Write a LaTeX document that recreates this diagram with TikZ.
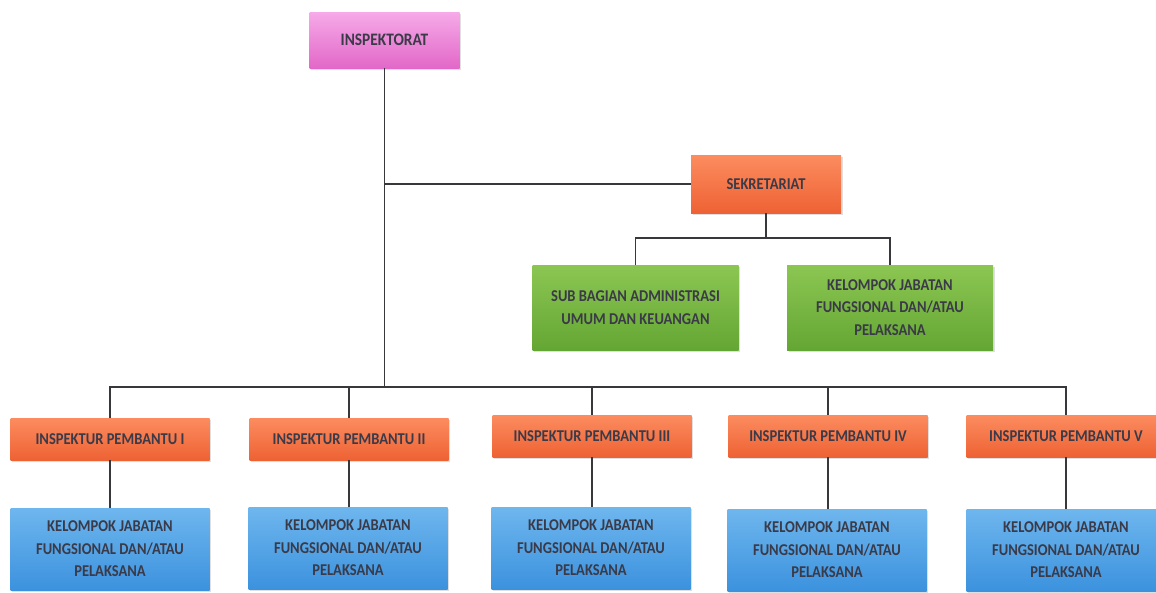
\documentclass[tikz,border=0pt]{standalone}
\usepackage{fontspec}
\setmainfont[FakeStretch=0.88]{Carlito}
\usetikzlibrary{shadows}
\definecolor{pinkL}{RGB}{246,170,232}
\definecolor{pinkD}{RGB}{226,104,200}
\definecolor{orangeL}{RGB}{252,140,95}
\definecolor{orangeD}{RGB}{238,98,52}
\definecolor{greenL}{RGB}{140,198,82}
\definecolor{greenD}{RGB}{100,166,52}
\definecolor{blueL}{RGB}{110,182,238}
\definecolor{blueD}{RGB}{60,146,222}
\definecolor{txtgray}{RGB}{58,58,72}
\definecolor{linegray}{RGB}{55,55,60}
\tikzset{
	unitbox/.style={align=center, text=txtgray, inner sep=2pt,
		font=\fontsize{16.5}{22.5}\selectfont\bfseries,
		drop shadow={opacity=0.25, shadow xshift=1.5pt, shadow yshift=-2pt}},
	headbox/.style={unitbox, top color=pinkL, bottom color=pinkD, minimum width=150pt, minimum height=56pt, font=\fontsize{17.5}{22}\selectfont\bfseries},
	sekbox/.style={unitbox, top color=orangeL, bottom color=orangeD, minimum width=150pt, minimum height=58pt},
	subbox/.style={unitbox, top color=greenL, bottom color=greenD, minimum width=206pt, minimum height=85pt},
	irbanbox/.style={unitbox, top color=orangeL, bottom color=orangeD, minimum width=199pt, minimum height=42pt},
	jafbox/.style={unitbox, top color=blueL, bottom color=blueD, minimum width=199pt, minimum height=82pt},
	link/.style={draw=linegray, line width=1.7pt}
}
\begin{document}
\begin{tikzpicture}[x=1pt, y=-1pt]
	%%%%% START %%%%%
	\useasboundingbox[fill=white] (0, 0) rectangle (1156, 592);
	
	\node[headbox] (insp) at (384.5, 40) {INSPEKTORAT};
	\node[sekbox] (sek) at (766, 184) {SEKRETARIAT};
	
	\node[subbox] (sub) at (635.5, 307.5) {SUB BAGIAN ADMINISTRASI\\UMUM DAN KEUANGAN};
	\node[subbox] (kjs) at (890, 307.5) {KELOMPOK JABATAN\\FUNGSIONAL DAN/ATAU\\PELAKSANA};
	
	\node[irbanbox] (ip1) at (110, 439) {INSPEKTUR PEMBANTU I};
	\node[irbanbox] (ip2) at (349, 439) {INSPEKTUR PEMBANTU II};
	\node[irbanbox] (ip3) at (592, 436) {INSPEKTUR PEMBANTU III};
	\node[irbanbox] (ip4) at (828, 436) {INSPEKTUR PEMBANTU IV};
	\node[irbanbox] (ip5) at (1066, 436) {INSPEKTUR PEMBANTU V};
	
	\node[jafbox] (kj1) at (110, 549) {KELOMPOK JABATAN\\FUNGSIONAL DAN/ATAU\\PELAKSANA};
	\node[jafbox] (kj2) at (348, 548) {KELOMPOK JABATAN\\FUNGSIONAL DAN/ATAU\\PELAKSANA};
	\node[jafbox] (kj3) at (591, 548) {KELOMPOK JABATAN\\FUNGSIONAL DAN/ATAU\\PELAKSANA};
	\node[jafbox] (kj4) at (827, 550) {KELOMPOK JABATAN\\FUNGSIONAL DAN/ATAU\\PELAKSANA};
	\node[jafbox] (kj5) at (1066, 550) {KELOMPOK JABATAN\\FUNGSIONAL DAN/ATAU\\PELAKSANA};
	
	% junctions
	\coordinate (busTop) at (insp.south |- sek.west);
	\coordinate (busSek) at (766, 238);
	\coordinate (busIrban) at (384.5, 387);
	
	\draw[link] (insp.south) -- (busIrban);
	\draw[link] (busTop) -- (sek.west);
	
	\draw[link] (sek.south) -- (busSek);
	\draw[link] (sub.north) |- (busSek);
	\draw[link] (kjs.north) |- (busSek);
	
	\draw[link] (ip1.north) |- (busIrban);
	\draw[link] (ip2.north) |- (busIrban);
	\draw[link] (ip3.north) |- (busIrban);
	\draw[link] (ip4.north) |- (busIrban);
	\draw[link] (ip5.north) |- (busIrban);
	
	\draw[link] (ip1.south) -- (ip1.south |- kj1.north);
	\draw[link] (ip2.south) -- (ip2.south |- kj2.north);
	\draw[link] (ip3.south) -- (ip3.south |- kj3.north);
	\draw[link] (ip4.south) -- (ip4.south |- kj4.north);
	\draw[link] (ip5.south) -- (ip5.south |- kj5.north);
	
	%%%%% END %%%%%
\end{tikzpicture}
\end{document}
